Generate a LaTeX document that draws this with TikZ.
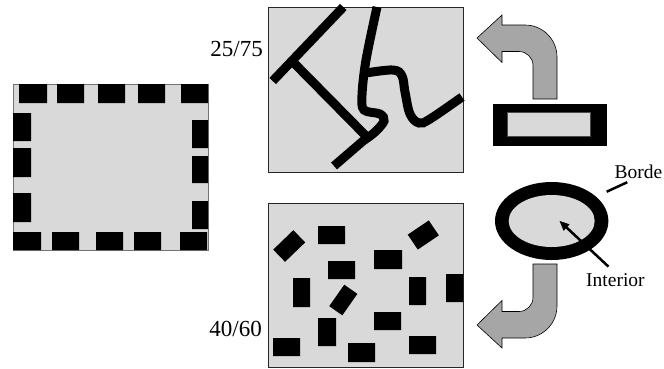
\documentclass[tikz,border=0pt]{standalone}
\usepackage{fontspec}
\setmainfont{Liberation Serif}
\usetikzlibrary{arrows.meta}
\definecolor{panel}{gray}{0.85}
\definecolor{bendgray}{gray}{0.65}
\tikzset{
  ink/.style={line width=9pt,black},
  ratio/.style={font=\fontsize{23}{26}\selectfont,inner sep=0pt},
  tag/.style={font=\fontsize{19.5}{22}\selectfont,inner sep=1pt},
  lead/.style={line width=2.5pt,black},
  bendarrow/.style={fill=bendgray,draw=black,line width=.6pt,line join=miter}
}
\begin{document}
\begin{tikzpicture}[x=1pt,y=-1pt]
\useasboundingbox (0,0) rectangle (664,368);
% blocks along the edge
\filldraw[fill=panel,draw=black!55,line width=.6pt] (13,84) rectangle (208,250);
\fill (19,84) rectangle (47,103) (57,84) rectangle (84,103) (98,84) rectangle (125,103)
      (138,84) rectangle (165,103) (181,84) rectangle (208,103);
\fill (13,232) rectangle (41,250) (52,232) rectangle (79,250) (96,232) rectangle (123,250)
      (134,232) rectangle (161,250) (180,232) rectangle (207,250);
\fill (13,113) rectangle (31,141) (13,148) rectangle (31,177) (13,193) rectangle (31,222);
\fill (192,120) rectangle (208,148) (192,156) rectangle (208,183) (192,201) rectangle (208,229);

% long strokes
\filldraw[fill=panel,draw=black!85,line width=.7pt] (268,7) rectangle (463,172);
\draw[ink] (343.3,7) -- (272.7,81);
\draw[ink] (292,61) -- (366,136);
\draw[ink] plot[smooth,tension=.55] coordinates {(377,7) (366,60) (362,95) (364,110) (380,114) (384,121) (375,132) (363,141)} -- (334,166);
\draw[ink] plot[smooth,tension=.6] coordinates {(366,73) (393,70) (402,76) (405,92) (410,114) (419,123) (430,119) (462,97)};
\node[ratio,anchor=base east] (upper) at (263,56.7) {25/75};

% scattered blocks
\filldraw[fill=panel,draw=black!85,line width=.7pt] (268,203) rectangle (463,367.5);
\fill[rotate around={44:(289.2,246)}] (275.2,237.5) rectangle (303.2,254.5);
\fill[rotate around={34:(423.3,235)}] (410.6,226) rectangle (436,244);
\fill[rotate around={55:(343.3,300)}] (330.2,292) rectangle (356.4,308);
\fill (318,226) rectangle (345,244) (374,250) rectangle (402,269) (328,261) rectangle (355,279);
\fill (293,278) rectangle (310,307) (409,277) rectangle (426,305) (446,274) rectangle (463,302);
\fill (374,312) rectangle (401,330) (318,318) rectangle (336,346) (273,338) rectangle (300,356);
\fill (348,343) rectangle (375,362) (409,336) rectangle (436,354);
\node[ratio,anchor=base east] (lower) at (262,336.7) {40/60};

% thin piece and round piece
\fill (493.3,104) rectangle (606.7,146);
\filldraw[fill=panel,draw=black!70,line width=.5pt] (507.7,112.7) rectangle (590.7,136.7);
\fill (551.7,221) ellipse [x radius=56.7pt,y radius=39pt];
\fill[panel] (551.7,221) ellipse [x radius=43pt,y radius=26pt];
\coordinate (rim) at (606.7,191.7);
\coordinate (core) at (559.3,220.7);
\node[tag,anchor=base west] (borde) at (613.3,178.3) {Borde};
\node[tag,anchor=base west] (interior) at (585,286.7) {Interior};
\draw[lead] (rim) -- ([xshift=14pt,yshift=-2.5pt]borde.south west);
\draw[lead,-{Triangle[length=10pt,width=8pt]}] ([xshift=-7pt,yshift=6pt]interior.north) -- (core);

% bent arrows
\filldraw[bendarrow] (533,99) -- (557,99) -- (557,57) .. controls (557,39.3) and (542.7,25) .. (525,25)
  -- (502,25) -- (502,15) -- (477,38) -- (502,62.5) -- (502,51.5) -- (519,51.5)
  .. controls (526.7,51.5) and (533,57.8) .. (533,65.5) -- cycle;
\begin{scope}[shift={(0,363)},yscale=-1]
\filldraw[bendarrow] (533,99) -- (557,99) -- (557,57) .. controls (557,39.3) and (542.7,25) .. (525,25)
  -- (502,25) -- (502,15) -- (477,38) -- (502,62.5) -- (502,51.5) -- (519,51.5)
  .. controls (526.7,51.5) and (533,57.8) .. (533,65.5) -- cycle;
\end{scope}
\end{tikzpicture}
\end{document}
